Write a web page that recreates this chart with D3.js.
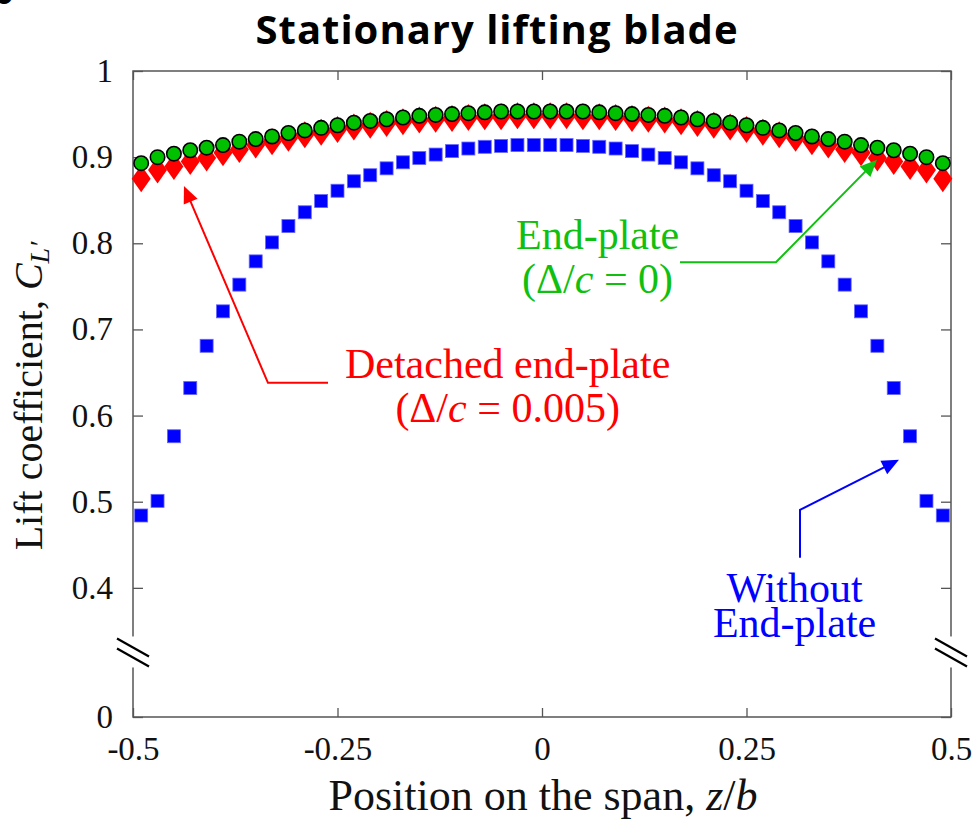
<!DOCTYPE html>
<html>
<head>
<meta charset="utf-8">
<script src="https://cdn.jsdelivr.net/npm/d3@7"></script>
<style>
  body { margin: 0; background: #fff; }
  text { font-family: "Liberation Serif", serif; }
</style>
</head>
<body>
<svg id="chart" width="979" height="824"></svg>
<script>
// spanwise stations z/b
const zPos = [-0.49, -0.47, -0.45, -0.43, -0.41, -0.39, -0.37, -0.35, -0.33, -0.31,
  -0.29, -0.27, -0.25, -0.23, -0.21, -0.19, -0.17, -0.15, -0.13, -0.11,
  -0.09, -0.07, -0.05, -0.03, -0.01, 0.01, 0.03, 0.05, 0.07, 0.09,
  0.11, 0.13, 0.15, 0.17, 0.19, 0.21, 0.23, 0.25, 0.27, 0.29,
  0.31, 0.33, 0.35, 0.37, 0.39, 0.41, 0.43, 0.45, 0.47, 0.49];

// lift coefficient, no end-plate (blue squares)
const clNoPlate = [0.484, 0.501, 0.576, 0.632, 0.681, 0.721, 0.752, 0.779, 0.801, 0.820,
  0.836, 0.849, 0.861, 0.872, 0.879, 0.887, 0.894, 0.899, 0.903, 0.907,
  0.910, 0.912, 0.913, 0.914, 0.914, 0.914, 0.914, 0.913, 0.912, 0.910,
  0.907, 0.903, 0.899, 0.894, 0.887, 0.879, 0.872, 0.861, 0.849, 0.836,
  0.820, 0.801, 0.779, 0.752, 0.721, 0.681, 0.632, 0.576, 0.501, 0.484];

// detached end-plate, gap 0.005 (red diamonds)
const clDetached = [0.875, 0.885, 0.889, 0.895, 0.899, 0.905, 0.909, 0.914, 0.918, 0.922,
  0.926, 0.929, 0.932, 0.935, 0.937, 0.939, 0.941, 0.943, 0.944, 0.945,
  0.946, 0.947, 0.947, 0.948, 0.948, 0.948, 0.948, 0.947, 0.947, 0.946,
  0.945, 0.944, 0.943, 0.941, 0.939, 0.937, 0.935, 0.932, 0.929, 0.926,
  0.922, 0.918, 0.914, 0.909, 0.905, 0.899, 0.895, 0.889, 0.885, 0.875];

// end-plate, no gap (green circles)
const clEndPlate = [0.893, 0.900, 0.904, 0.908, 0.911, 0.914, 0.918, 0.921, 0.924, 0.928,
  0.931, 0.934, 0.937, 0.940, 0.942, 0.944, 0.946, 0.948, 0.949, 0.950,
  0.951, 0.952, 0.953, 0.953, 0.953, 0.953, 0.953, 0.953, 0.952, 0.951,
  0.950, 0.949, 0.948, 0.946, 0.944, 0.942, 0.940, 0.937, 0.934, 0.931,
  0.928, 0.924, 0.921, 0.918, 0.914, 0.911, 0.908, 0.904, 0.900, 0.893];

const xTicks = [-0.5, -0.25, 0, 0.25, 0.5];
const xTickLabels = ["-0.5", "-0.25", "0", "0.25", "0.5"];
const yTicks = [0, 0.4, 0.5, 0.6, 0.7, 0.8, 0.9, 1];
const yTickLabels = ["0", "0.4", "0.5", "0.6", "0.7", "0.8", "0.9", "1"];

const svg = d3.select("#chart");
const plotL = 133, plotR = 951, plotT = 71, plotB = 717;
const serif = "'Liberation Serif', 'Times New Roman', serif";

const x = d3.scaleLinear().domain([-0.5, 0.5]).range([plotL, plotR]);
// broken axis: 0 squeezed to the bottom, 0.3 .. 1 linear
const y = d3.scaleLinear().domain([0, 0.3, 1]).range([plotB, 674, plotT]);

const axisCol = "#555";

// panel letter, mostly cut off at the top
svg.append("text").attr("x", -11).attr("y", 4)
  .style("font-family", "'Open Sans', sans-serif").style("font-weight", 700)
  .style("font-size", "40px").text("b");

// title
svg.append("text")
  .attr("x", 497).attr("y", 44)
  .attr("text-anchor", "middle")
  .style("font-family", "'Open Sans', sans-serif")
  .style("font-weight", 700)
  .style("font-size", "40px")
  .style("letter-spacing", "1px")
  .text("Stationary lifting blade");

// frame
svg.append("rect")
  .attr("x", plotL).attr("y", plotT)
  .attr("width", plotR - plotL).attr("height", plotB - plotT)
  .attr("fill", "none").attr("stroke", axisCol).attr("stroke-width", 1.5);

function styleAxis(g) {
  g.select(".domain").remove();
  g.selectAll(".tick line").attr("stroke", axisCol).attr("stroke-width", 1.3);
  g.selectAll("text").style("font-family", serif)
    .style("font-size", "33px").attr("fill", "#111");
}

svg.append("g").attr("transform", `translate(0,${plotB})`)
  .call(d3.axisBottom(x).tickValues(xTicks).tickSizeInner(-9).tickSizeOuter(0)
    .tickPadding(20).tickFormat((d, i) => xTickLabels[i]))
  .call(styleAxis);

svg.append("g").attr("transform", `translate(0,${plotT})`)
  .call(d3.axisTop(x).tickValues(xTicks).tickSizeInner(-9).tickSizeOuter(0).tickFormat(""))
  .call(styleAxis);

svg.append("g").attr("transform", `translate(${plotL},0)`)
  .call(d3.axisLeft(y).tickValues(yTicks).tickSizeInner(-10).tickSizeOuter(0)
    .tickPadding(20).tickFormat((d, i) => yTickLabels[i]))
  .call(styleAxis);

svg.append("g").attr("transform", `translate(${plotR},0)`)
  .call(d3.axisRight(y).tickValues(yTicks).tickSizeInner(-10).tickSizeOuter(0).tickFormat(""))
  .call(styleAxis);

// axis break marks
const breakAt = 0.325;
[plotL, plotR].forEach(ax => {
  const yb = y(breakAt);
  svg.append("rect").attr("x", ax - 16).attr("y", yb - 16)
    .attr("width", 32).attr("height", 31).attr("fill", "#fff");
  [-5, 5].forEach(off => {
    svg.append("line")
      .attr("x1", ax - 16).attr("y1", yb + off - 9)
      .attr("x2", ax + 16).attr("y2", yb + off + 9)
      .attr("stroke", "#000").attr("stroke-width", 2.2);
  });
});

const pts = (vals) => zPos.map((z, i) => ({ z: z, v: vals[i] }));

// without end-plate
svg.append("g").selectAll("rect")
  .data(pts(clNoPlate))
  .join("rect")
  .attr("x", d => x(d.z) - 6.5).attr("y", d => y(d.v) - 6.5)
  .attr("width", 13).attr("height", 13)
  .attr("fill", "#0000ff").attr("stroke", "#6666ff").attr("stroke-width", 0.8);

// detached end-plate
svg.append("g").selectAll("path")
  .data(pts(clDetached))
  .join("path")
  .attr("d", d => {
    const cx = x(d.z), cy = y(d.v);
    return `M${cx},${cy - 13.5}L${cx + 9.5},${cy}L${cx},${cy + 13.5}L${cx - 9.5},${cy}Z`;
  })
  .attr("fill", "#ff0000");

// end-plate
svg.append("g").selectAll("circle")
  .data(pts(clEndPlate))
  .join("circle")
  .attr("cx", d => x(d.z)).attr("cy", d => y(d.v))
  .attr("r", 7.2)
  .attr("fill", "#00c000").attr("stroke", "#000").attr("stroke-width", 1.6);

// annotations (data units)
function arrow(path, col) {
  const p = path.map(([a, b]) => [x(a), y(b)]);
  const [x1, y1] = p[p.length - 2], [x2, y2] = p[p.length - 1];
  const ang = Math.atan2(y2 - y1, x2 - x1);
  const len = 17, half = 7.5;
  const bx = x2 - len * Math.cos(ang), by = y2 - len * Math.sin(ang);
  const line = p.slice(0, -1).concat([[bx + 2 * Math.cos(ang), by + 2 * Math.sin(ang)]]);
  svg.append("path").attr("d", d3.line()(line))
    .attr("fill", "none").attr("stroke", col).attr("stroke-width", 2);
  svg.append("path")
    .attr("d", `M${x2},${y2}L${bx - half * Math.sin(ang)},${by + half * Math.cos(ang)}L${bx + half * Math.sin(ang)},${by - half * Math.cos(ang)}Z`)
    .attr("fill", col);
}

function label(lines, cx, col, size) {
  lines.forEach(([parts, v]) => {
    const t = svg.append("text").attr("x", x(cx)).attr("y", y(v))
      .attr("text-anchor", "middle").attr("fill", col)
      .style("font-family", serif).style("font-size", size + "px");
    parts.forEach(([s, it]) => t.append("tspan").style("font-style", it ? "italic" : "normal").text(s));
  });
}

arrow([[-0.2616, 0.638], [-0.335, 0.638], [-0.4377, 0.8665]], "#ff0000");
label([
  [[["Detached end-plate", 0]], 0.644],
  [[["(Δ/", 0], ["c", 1], [" = 0.005)", 0]], 0.593]
], -0.042, "#ff0000", 42);

arrow([[0.1687, 0.778], [0.286, 0.778], [0.4095, 0.897]], "#10c010");
label([
  [[["End-plate", 0]], 0.793],
  [[["(Δ/", 0], ["c", 1], [" = 0)", 0]], 0.742]
], 0.068, "#10c010", 42);

arrow([[0.3154, 0.435], [0.3154, 0.4905], [0.4364, 0.5486]], "#0000ff");
label([
  [[["Without", 0]], 0.3838],
  [[["End-plate", 0]], 0.3432]
], 0.3088, "#0000ff", 42);

// axis titles
const yl = svg.append("text")
  .attr("transform", "translate(42,396) rotate(-90)")
  .attr("text-anchor", "middle")
  .style("font-family", serif).style("font-size", "40px").attr("fill", "#111");
yl.append("tspan").text("Lift coefficient, ");
yl.append("tspan").style("font-style", "italic").text("C");
yl.append("tspan").style("font-style", "italic").style("font-size", "28px").attr("dy", 7).text("L′");

const xl = svg.append("text")
  .attr("x", 543).attr("y", 810)
  .attr("text-anchor", "middle")
  .style("font-family", serif).style("font-size", "44px").attr("fill", "#111");
xl.append("tspan").text("Position on the span, ");
xl.append("tspan").style("font-style", "italic").text("z");
xl.append("tspan").text("/");
xl.append("tspan").style("font-style", "italic").text("b");
</script>
</body>
</html>
